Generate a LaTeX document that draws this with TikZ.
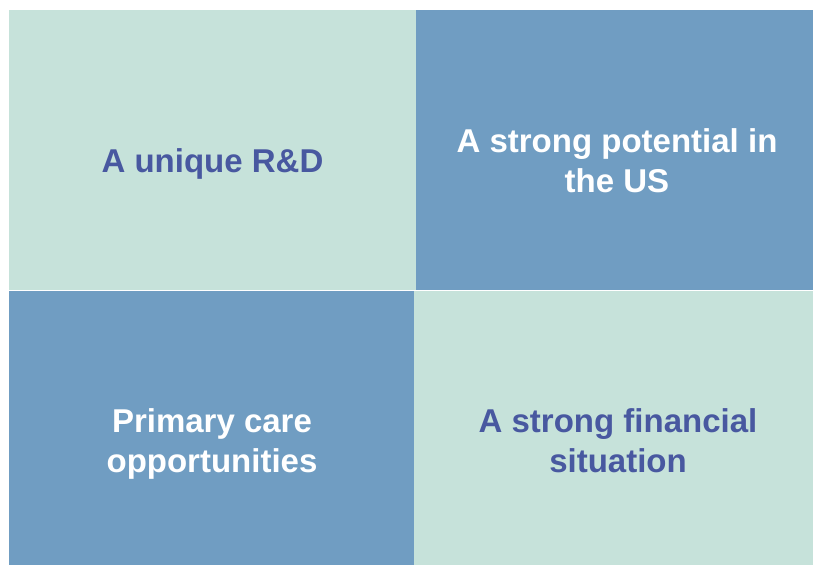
\documentclass[tikz,border=0pt]{standalone}
\usepackage{fontspec}
\setmainfont{Liberation Sans}
\definecolor{lightcell}{HTML}{C6E2DA}
\definecolor{bluecell}{HTML}{709DC2}
\definecolor{darktext}{HTML}{4858A0}
\begin{document}
\begin{tikzpicture}[x=1bp,y=-1bp,
    label/.style={align=center,font=\bfseries\fontsize{33bp}{40bp}\selectfont}]
    \useasboundingbox (0,0) rectangle (813,565);
    \fill[lightcell] (9,10) rectangle (416,290);
    \fill[bluecell] (416,10) rectangle (813,290);
    \fill[bluecell] (9,291) rectangle (414,565);
    \fill[lightcell] (414,291) rectangle (813,565);
    \node[label,text=darktext] (rd) at (212.5,164) {A unique R\&D};
    \node[label,text=white] (us) at (617,161) {A strong potential in\\the US};
    \node[label,text=white] (care) at (212,444) {Primary care\\opportunities};
    \node[label,text=darktext] (fin) at (618,441) {A strong financial\\situation};
\end{tikzpicture}
\end{document}
